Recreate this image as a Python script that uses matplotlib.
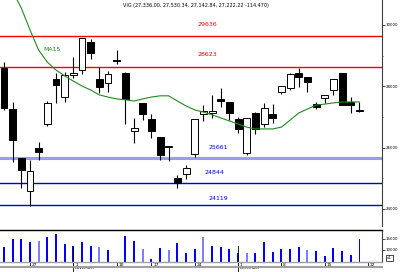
import numpy as np
import matplotlib
matplotlib.use('Agg')
import matplotlib.pyplot as plt
import matplotlib.transforms as mtransforms

# daily OHLC
opens = [28598, 27261, 25663, 24587, 25989, 26772, 28239, 27652, 28380, 28532,
         29445, 28239, 28108, 28840, 28435, 26543, 27456, 26935, 26347, 26021,
         25011, 25141, 25793, 27098, 27130, 27587, 27489, 26935, 25826, 27130,
         26772, 27098, 27815, 27945, 28435, 28304, 27424, 27619, 27880, 28435,
         27489, 27200]
highs = [28793, 27489, 25663, 25597, 26185, 27521, 28435, 28467, 28956, 29576,
         29543, 28630, 28500, 29185, 28467, 26967, 27456, 27098, 26347, 26054,
         25108, 25435, 26935, 27391, 27717, 27945, 27489, 27000, 26967, 27163,
         27456, 27424, 28010, 28435, 28598, 28304, 27489, 27717, 28239, 28435,
         27652, 27489]
lows = [27228, 25532, 24684, 24098, 25597, 26706, 27456, 27489, 28271, 28402,
        28891, 27782, 27815, 28728, 26772, 26152, 26902, 26315, 25597, 25565,
        24684, 24978, 25695, 26869, 26967, 27326, 26902, 26478, 25760, 26445,
        26674, 26804, 27750, 27880, 27978, 27815, 27261, 27456, 27717, 27391,
        27130, 27163]
closes = [27293, 26250, 25271, 25239, 25858, 27456, 28043, 28369, 28420, 29576,
          29087, 27978, 28402, 28826, 27587, 26641, 27098, 26543, 25760, 26054,
          24847, 25337, 26935, 27195, 27195, 27521, 27130, 26608, 26967, 26608,
          27293, 26967, 28010, 28402, 28304, 28141, 27326, 27717, 28239, 27391,
          27391, 27195]
ma15 = [32000, 31100, 30550, 29840, 29180, 28790, 28530, 28340, 28170, 28010,
        27880, 27720, 27650, 27590, 27560, 27520, 27590, 27650, 27690, 27690,
        27520, 27360, 27230, 27160, 27070, 26970, 26870, 26770, 26670, 26610,
        26610, 26610, 26670, 26900, 27130, 27260, 27390, 27420, 27460, 27490,
        27490, 27490]
volume = [11360, 15000, 15000, 13640, 14090, 15910, 17270, 12730, 11820, 13640,
          11820, 11360, 10000, 3500, 16360, 14090, 10450, 5910, 10910, 10000,
          13180, 8640, 10450, 15910, 11820, 11360, 10450, 8640, 8640, 8640,
          13640, 9090, 10450, 10450, 11360, 10000, 9550, 7270, 10910, 9550,
          7730, 15000]
light_vol = [4, 11, 16, 19, 23, 28, 35]

levels_red = [29636, 28623]
levels_blue = [25661, 24844, 24119]
date_idx = [3, 8, 13, 17, 22, 27, 32, 37, 42]
date_labels = ['27', '1', '10', '17', '24', '1', '8', '15', '22']
month_idx = [8, 27]
month_labels = ['November', 'December']
header = 'VIG (27,336.00, 27,530.34, 27,142.84, 27,222.22 -114.470)'

x = np.arange(len(opens))
o = np.array(opens); c = np.array(closes)

fig = plt.figure(figsize=(4, 2.72), dpi=100)
ax = fig.add_axes([0, 1 - 226/272, 382/400, 226/272])
axv = fig.add_axes([0, 1 - 262/272, 382/400, 32/272], sharex=ax)

# levels
for lv in levels_red:
    ax.axhline(lv, color='#ff0000', lw=1.0, zorder=1)
ax.axhline(levels_blue[0], color='#9a9aff', lw=2.2, zorder=1)
for lv in levels_blue[1:]:
    ax.axhline(lv, color='#0000cc', lw=1.0, zorder=1)

ax.text(23.5, 30032, '29636', color='#ff0000', fontsize=4.5, ha='center', va='center')
ax.text(23.5, 29022, '28623', color='#ff0000', fontsize=4.5, ha='center', va='center')
ax.text(24.7, 26021, '25661', color='#0000ee', fontsize=4.5, ha='center', va='center')
ax.text(24.3, 25174, '24844', color='#0000ee', fontsize=4.5, ha='center', va='center')
ax.text(24.7, 24358, '24119', color='#0000ee', fontsize=4.5, ha='center', va='center')

# candles
ax.vlines(x, lows, highs, color='black', lw=0.8, zorder=2)
up = c >= o
body = np.maximum(np.abs(c - o), 40)
ax.bar(x[up], body[up], bottom=o[up], width=0.8, color='white', edgecolor='black', lw=0.7, zorder=3)
ax.bar(x[~up], body[~up], bottom=c[~up], width=0.8, color='black', edgecolor='black', lw=0.7, zorder=3)

ax.plot(x, ma15, color='#1f8a1f', lw=0.8, zorder=4)
ax.text(5.5, 29185, 'MA15', color='#1f8a1f', fontsize=4.5, ha='center', va='center')

ax.set_xlim(-0.46, 43.6)
ax.set_ylim(23445, 30815)
ax.yaxis.tick_right()
ax.set_yticks([24000, 26000, 28000, 30000])
ax.set_yticklabels(['24000', '26000', '28000', '30000'])
ax.set_yticks([25000, 27000, 29000], minor=True)
ax.tick_params(axis='y', which='major', labelsize=2.9, length=2, pad=0.5, width=0.5)
ax.tick_params(axis='y', which='minor', length=1, width=0.5)
ax.tick_params(axis='x', bottom=False, labelbottom=False)
for s in ['top', 'left', 'bottom']:
    ax.spines[s].set_visible(False)
ax.spines['right'].set_color('#404040')
ax.spines['right'].set_linewidth(0.8)

# volume
vcol = ['#7f7fff' if i in light_vol else '#0000ff' for i in x]
axv.bar(x, volume, width=0.22, color=vcol)
axv.set_ylim(4545, 19090)
axv.yaxis.tick_right()
axv.set_yticks([10000, 15000])
axv.set_yticklabels(['10000', '15000'])
axv.tick_params(axis='y', labelsize=2.9, length=2, pad=0.5, width=0.5)
axv.spines['left'].set_visible(False)
axv.spines['top'].set_color('black')
axv.spines['top'].set_linewidth(1.0)
axv.spines['right'].set_color('#404040')
axv.spines['right'].set_linewidth(0.8)
axv.spines['bottom'].set_color('#a0a0a0')
axv.spines['bottom'].set_linewidth(1.0)
axv.set_xticks(date_idx)
axv.set_xticklabels([])
axv.tick_params(axis='x', direction='out', length=3, width=0.6, color='black')

tr = mtransforms.blended_transform_factory(axv.transData, axv.transAxes)
for i, lab in zip(date_idx, date_labels):
    axv.text(i + 0.2, -0.02, lab, fontsize=3.2, ha='left', va='top', transform=tr)
for i, lab in zip(month_idx, month_labels):
    axv.plot([i, i], [-0.3, 0.5], color='black', lw=0.6, transform=tr, clip_on=False)
    axv.text(i + 0.2, -0.14, lab, fontsize=2.8, ha='left', va='top', transform=tr)

# bottom grey strip
fig.add_artist(plt.Line2D([0, 382/400], [1 - 267/272, 1 - 267/272], color='#a0a0a0', lw=1.5))

fig.text(123/400, 1 - 5/272, header, fontsize=3.5, ha='left', va='center')
fig.text(387/400, 1 - 258/272, 'x1', fontsize=2.8, ha='left', va='center',
         bbox=dict(boxstyle='square,pad=0.2', fc='white', ec='black', lw=0.5))

fig.savefig('out.png', dpi=100)
